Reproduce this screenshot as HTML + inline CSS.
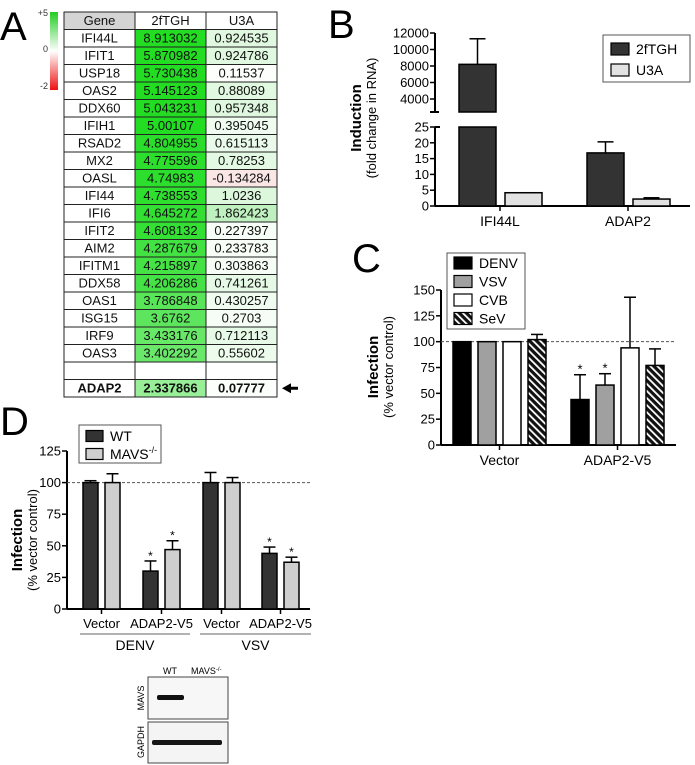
<!DOCTYPE html>
<html><head><meta charset="utf-8">
<style>
body{margin:0;background:#fff;}
svg{display:block;font-family:"Liberation Sans",Arial,sans-serif;}
</style></head>
<body>
<svg id="fig" width="695" height="765" viewBox="0 0 695 765" xmlns="http://www.w3.org/2000/svg">
<defs>
<linearGradient id="scaleGrad" x1="0" y1="0" x2="0" y2="1">
<stop offset="0" stop-color="#22cc22"/><stop offset="0.5" stop-color="#ffffff"/><stop offset="1" stop-color="#ee1111"/>
</linearGradient>
<pattern id="hatch" patternUnits="userSpaceOnUse" width="5" height="5" patternTransform="rotate(-45)">
<rect width="5" height="5" fill="#111"/><rect x="0" y="0" width="1.8" height="5" fill="#fff"/>
</pattern>
</defs>
<g id="panelA"></g>
<g id="panelB"></g>
<g id="panelC"></g>
<g id="panelD"></g>
<g id="blot"></g>
</svg>
<script>
// ---------- Panel A data ----------
const genes = ["IFI44L","IFIT1","USP18","OAS2","DDX60","IFIH1","RSAD2","MX2","OASL","IFI44","IFI6","IFIT2","AIM2","IFITM1","DDX58","OAS1","ISG15","IRF9","OAS3"];
const val2f = ["8.913032","5.870982","5.730438","5.145123","5.043231","5.00107","4.804955","4.775596","4.74983","4.738553","4.645272","4.608132","4.287679","4.215897","4.206286","3.786848","3.6762","3.433176","3.402292"];
const valU3 = ["0.924535","0.924786","0.11537","0.88089","0.957348","0.395045","0.615113","0.78253","-0.134284","1.0236","1.862423","0.227397","0.233783","0.303863","0.741261","0.430257","0.2703","0.712113","0.55602"];
const hiGene = "ADAP2", hi2f = "2.337866", hiU3 = "0.07777";

// ---------- Panel B data ----------
const bCats = ["IFI44L","ADAP2"];
const b2fTGH = [8200, 16.8];
const b2fTGHerr = [11300, 20.3];
const bU3A = [4.2, 2.2];
const bU3Aerr = [4.2, 2.6];
const bUpperTicks = [4000,6000,8000,10000,12000];
const bLowerTicks = [0,5,10,15,20,25];

// ---------- Panel C data ----------
const cCats = ["Vector","ADAP2-V5"];
const cSeries = ["DENV","VSV","CVB","SeV"];
const cVals = [[100,100,100,102],[44,58,94,77]];
const cErr = [[100,100,100,107],[68,69,143,93]];
const cStar = [[false,false,false,false],[true,true,false,false]];
const cTicks = [0,25,50,75,100,125,150];

// ---------- Panel D data ----------
const dCats = ["Vector","ADAP2-V5","Vector","ADAP2-V5"];
const dGroups = ["DENV","VSV"];
const dWT = [100,30,100,44];
const dWTerr = [101.5,38,108,49];
const dMAVS = [100,47,100,37];
const dMAVSerr = [107,54,104,41];
const dStar = [false,true,false,true];
const dTicks = [0,25,50,75,100,125];

const NS="http://www.w3.org/2000/svg";
function mk(parent,tag,attrs,text){const e=document.createElementNS(NS,tag);for(const k in attrs)e.setAttribute(k,attrs[k]);if(text!==undefined)e.textContent=text;parent.appendChild(e);return e;}

// ===== Panel A =====
const A=document.getElementById('panelA');
let t=mk(A,'text',{x:0,y:40,'font-size':40},'A');


let sb=mk(A,'rect',{x:50,y:12,width:8,height:78,fill:'url(#scaleGrad)'});


[['+5',16],['0',52],['-2',89]].forEach(p=>{const e=mk(A,'text',{x:48,y:p[1],'font-size':9,'text-anchor':'end',fill:'#333'},p[0]);

});
const tx=[64,135,206,277], ty0=12, rh=17.5;
function greenFor(v){const f=Math.max(0,Math.min(1,v/5));const r=Math.round(255-(255-34)*f),g=Math.round(255-(255-221)*f),b=Math.round(255-(255-34)*f);return `rgb(${r},${g},${b})`;}
function u3Col(v){if(v<0){return '#fbe6e6';}const f=Math.min(1,v/1.9);const r=Math.round(255-(255-190)*f),g=Math.round(255-(255-240)*f),b=Math.round(255-(255-190)*f);return `rgb(${r},${g},${b})`;}
function row(i,cells,fills,bold,name){
  const y=ty0+i*rh;
  for(let c=0;c<3;c++){
    const r=mk(A,'rect',{x:tx[c],y:y,width:tx[c+1]-tx[c],height:rh,fill:fills[c],stroke:'#222','stroke-width':1});
    
    
    if(cells[c]!==''){const e=mk(A,'text',{x:(tx[c]+tx[c+1])/2,y:y+13,'font-size':13,'text-anchor':'middle','font-weight':bold?'bold':'normal',fill:'#111'},cells[c]);
    
    }
  }
}
row(0,['Gene','2fTGH','U3A'],['#d4d4d4','#fff','#fff'],false,'table-header');
genes.forEach((g,i)=>row(i+1,[g,val2f[i],valU3[i]],['#fff',greenFor(+val2f[i]),u3Col(+valU3[i])],false,'gene-row'));
row(genes.length+1,['','',''],['#fff','#fff','#fff'],false,'blank-row');
row(genes.length+2,[hiGene,hi2f,hiU3],['#fff',greenFor(+hi2f),u3Col(+hiU3)],true,'adap2-row');
const ay=ty0+(genes.length+2)*rh+rh/2;
let ar=mk(A,'path',{d:`M282 ${ay} L291 ${ay-5} L291 ${ay-1.5} L298 ${ay-1.5} L298 ${ay+1.5} L291 ${ay+1.5} L291 ${ay+5} Z`,fill:'#000'});



// ===== Panel B =====
const B=document.getElementById('panelB');
t=mk(B,'text',{x:328,y:38,'font-size':40},'B');


const bAx=435;
function yUp(v){return 99-(v-4000)*66/8000;}
function yLo(v){return 206-v*79/25;}
const UPB=112, LOT=127;
mk(B,'line',{x1:bAx,y1:yUp(12000),x2:bAx,y2:UPB,stroke:'#000','stroke-width':2});
mk(B,'line',{x1:bAx-5,y1:UPB,x2:bAx+4,y2:UPB,stroke:'#000','stroke-width':2});
mk(B,'line',{x1:bAx,y1:LOT,x2:bAx,y2:206,stroke:'#000','stroke-width':2});
mk(B,'line',{x1:bAx,y1:LOT,x2:bAx+5,y2:LOT,stroke:'#000','stroke-width':2});
mk(B,'line',{x1:bAx,y1:206,x2:690,y2:206,stroke:'#000','stroke-width':2});
bUpperTicks.forEach(v=>{mk(B,'line',{x1:bAx-5,y1:yUp(v),x2:bAx,y2:yUp(v),stroke:'#000','stroke-width':1.5});
 const e=mk(B,'text',{x:bAx-6,y:yUp(v)+4.5,'font-size':13,'text-anchor':'end'},v);
 
 });
bLowerTicks.forEach(v=>{mk(B,'line',{x1:bAx-5,y1:yLo(v),x2:bAx,y2:yLo(v),stroke:'#000','stroke-width':1.5});
 const e=mk(B,'text',{x:bAx-6,y:yLo(v)+4.5,'font-size':13,'text-anchor':'end'},v);
 
 });
const bCenters=[500,628], bw=37;
function yB(v){return v>25?yUp(v):yLo(v);}
function bBar(cx,v,ev,fill,name){
  if(v>25){
    const r1=mk(B,'rect',{x:cx,y:yUp(v),width:bw,height:UPB-yUp(v),fill:fill,stroke:'#000','stroke-width':1.5});
    
    
    const r2=mk(B,'rect',{x:cx,y:LOT,width:bw,height:206-LOT,fill:fill,stroke:'#000','stroke-width':1.5});
    
    
  } else {
    const r=mk(B,'rect',{x:cx,y:yLo(v),width:bw,height:206-yLo(v),fill:fill,stroke:'#000','stroke-width':1.5});
    
    
  }
  if(ev>v){mk(B,'line',{x1:cx+bw/2,y1:yB(v),x2:cx+bw/2,y2:yB(ev),stroke:'#000','stroke-width':1.5});
  mk(B,'line',{x1:cx+bw/2-8,y1:yB(ev),x2:cx+bw/2+8,y2:yB(ev),stroke:'#000','stroke-width':1.5});}
}
bCats.forEach((c,i)=>{
  bBar(bCenters[i]-41,b2fTGH[i],b2fTGHerr[i],'#333','b-bar-2ftgh');
  bBar(bCenters[i]+5,bU3A[i],bU3Aerr[i],'#e2e2e2','b-bar-u3a');
  mk(B,'line',{x1:bCenters[i],y1:206,x2:bCenters[i],y2:211,stroke:'#000','stroke-width':1.5});
  const e=mk(B,'text',{x:bCenters[i],y:226,'font-size':14,'text-anchor':'middle'},c);
  
  
});
let lg=mk(B,'rect',{x:603,y:35,width:87,height:47,fill:'#fff',stroke:'#555','stroke-width':1});


[['2fTGH','#333',49],['U3A','#e2e2e2',70]].forEach(p=>{
  mk(B,'rect',{x:611,y:p[2]-6,width:18,height:12,fill:p[1],stroke:'#000','stroke-width':1.2});
  const e=mk(B,'text',{x:636,y:p[2]+5,'font-size':14},p[0]);
  
  
});
t=mk(B,'text',{transform:'translate(361,118) rotate(-90)','font-size':15,'font-weight':'bold','text-anchor':'middle'},'Induction');


t=mk(B,'text',{transform:'translate(376,118) rotate(-90)','font-size':13,'text-anchor':'middle'},'(fold change in RNA)');



// ===== Panel C =====
const C=document.getElementById('panelC');
t=mk(C,'text',{x:352,y:272,'font-size':40},'C');


const cAx=441;
function yC(v){return 445-v*155/150;}
mk(C,'line',{x1:cAx,y1:yC(150),x2:cAx,y2:445,stroke:'#000','stroke-width':2});
mk(C,'line',{x1:cAx,y1:445,x2:676,y2:445,stroke:'#000','stroke-width':2});
cTicks.forEach(v=>{mk(C,'line',{x1:cAx-5,y1:yC(v),x2:cAx,y2:yC(v),stroke:'#000','stroke-width':1.5});
 const e=mk(C,'text',{x:cAx-6,y:yC(v)+4.5,'font-size':13,'text-anchor':'end'},v);
 
 });
mk(C,'line',{x1:cAx,y1:yC(100),x2:676,y2:yC(100),stroke:'#555','stroke-width':1,'stroke-dasharray':'3,2'});
const cFills=['#000','#a0a0a0','#fff','url(#hatch)'];
const cGroupStart=[453,571], cStep=25, cw=18;
cCats.forEach((c,g)=>{
  cSeries.forEach((s,k)=>{
    const x=cGroupStart[g]+k*cStep, v=cVals[g][k], ev=cErr[g][k];
    if(ev>v){mk(C,'line',{x1:x+cw/2,y1:yC(v),x2:x+cw/2,y2:yC(ev),stroke:'#000','stroke-width':1.5});
    mk(C,'line',{x1:x+cw/2-6,y1:yC(ev),x2:x+cw/2+6,y2:yC(ev),stroke:'#000','stroke-width':1.5});}
    const r=mk(C,'rect',{x:x,y:yC(v),width:cw,height:445-yC(v),fill:cFills[k],stroke:'#000','stroke-width':1.5});
    
    
    if(cStar[g][k]){const e=mk(C,'text',{x:x+cw/2,y:yC(ev)-1,'font-size':13,'text-anchor':'middle'},'*');
    
    }
  });
  const cx=cGroupStart[g]+(3*cStep+cw)/2;
  mk(C,'line',{x1:cx,y1:445,x2:cx,y2:450,stroke:'#000','stroke-width':1.5});
  const e=mk(C,'text',{x:cx,y:465,'font-size':14,'text-anchor':'middle'},c);
  
  
});
lg=mk(C,'rect',{x:447,y:253,width:78,height:76,fill:'#fff',stroke:'#555','stroke-width':1});


cSeries.forEach((s,k)=>{const y=263+k*18.5;
  mk(C,'rect',{x:454,y:y-6,width:18,height:12,fill:cFills[k],stroke:'#000','stroke-width':1.2});
  const e=mk(C,'text',{x:479,y:y+5,'font-size':14},s);
  
  });
t=mk(C,'text',{transform:'translate(378,367) rotate(-90)','font-size':15,'font-weight':'bold','text-anchor':'middle'},'Infection');


t=mk(C,'text',{transform:'translate(393,367) rotate(-90)','font-size':13,'text-anchor':'middle'},'(% vector control)');



// ===== Panel D =====
const D=document.getElementById('panelD');
t=mk(D,'text',{x:0,y:435,'font-size':40},'D');


const dAx=67;
function yD(v){return 609-v*158/125;}
mk(D,'line',{x1:dAx,y1:yD(125),x2:dAx,y2:609,stroke:'#000','stroke-width':2});
mk(D,'line',{x1:dAx,y1:609,x2:310,y2:609,stroke:'#000','stroke-width':2});
dTicks.forEach(v=>{mk(D,'line',{x1:dAx-5,y1:yD(v),x2:dAx,y2:yD(v),stroke:'#000','stroke-width':1.5});
 const e=mk(D,'text',{x:dAx-6,y:yD(v)+4.5,'font-size':13,'text-anchor':'end'},v);
 
 });
mk(D,'line',{x1:dAx,y1:yD(100),x2:310,y2:yD(100),stroke:'#555','stroke-width':1,'stroke-dasharray':'3,2'});
const dStart=[83,143,203,262], dw=15;
function dBar(x,v,ev,fill,star,name){
  mk(D,'line',{x1:x+dw/2,y1:yD(v),x2:x+dw/2,y2:yD(ev),stroke:'#000','stroke-width':1.5});
  mk(D,'line',{x1:x+dw/2-6,y1:yD(ev),x2:x+dw/2+6,y2:yD(ev),stroke:'#000','stroke-width':1.5});
  const r=mk(D,'rect',{x:x,y:yD(v),width:dw,height:609-yD(v),fill:fill,stroke:'#000','stroke-width':1.5});
  
  
  if(star){const e=mk(D,'text',{x:x+dw/2,y:yD(ev)-1,'font-size':12,'text-anchor':'middle'},'*');
  
  }
}
dCats.forEach((c,i)=>{
  dBar(dStart[i],dWT[i],dWTerr[i],'#333',dStar[i],'d-bar-wt');
  dBar(dStart[i]+22,dMAVS[i],dMAVSerr[i],'#cfcfcf',dStar[i],'d-bar-mavs');
  const cx=dStart[i]+(22+dw)/2;
  mk(D,'line',{x1:cx,y1:609,x2:cx,y2:614,stroke:'#000','stroke-width':1.5});
  const e=mk(D,'text',{x:cx,y:628,'font-size':13,'text-anchor':'middle'},c);
  
  
});
[[80,190],[200,311]].forEach((p,g)=>{
  mk(D,'line',{x1:p[0],y1:634,x2:p[1],y2:634,stroke:'#666','stroke-width':1});
  const e=mk(D,'text',{x:(p[0]+p[1])/2,y:650,'font-size':14,'text-anchor':'middle'},dGroups[g]);
  
  
});
lg=mk(D,'rect',{x:79,y:425,width:82,height:38,fill:'#fff',stroke:'#555','stroke-width':1});


[['WT','#333',436],['MAVS','#cfcfcf',454]].forEach((p,k)=>{
  mk(D,'rect',{x:86,y:p[2]-5.5,width:17,height:11,fill:p[1],stroke:'#000','stroke-width':1.2});
  const e=mk(D,'text',{x:110,y:p[2]+5,'font-size':14},p[0]);
  
  
  if(k===1){mk(e,'tspan',{'font-size':9,dy:-6},'-/-');}
});
t=mk(D,'text',{transform:'translate(22,540) rotate(-90)','font-size':15,'font-weight':'bold','text-anchor':'middle'},'Infection');


t=mk(D,'text',{transform:'translate(37,540) rotate(-90)','font-size':13,'text-anchor':'middle'},'(% vector control)');



// ===== Blot =====
const W=document.getElementById('blot');
let bl=mk(W,'rect',{x:148,y:677,width:80,height:42,fill:'#f7f7f7',stroke:'#444','stroke-width':1});


bl=mk(W,'rect',{x:148,y:722,width:80,height:41,fill:'#f4f4f4',stroke:'#444','stroke-width':1});


let band=mk(W,'rect',{x:157,y:695,width:27,height:5,rx:2,fill:'#111'});


band=mk(W,'rect',{x:152,y:740,width:70,height:5,rx:2,fill:'#151515'});


t=mk(W,'text',{x:170,y:674,'font-size':9,'text-anchor':'middle'},'WT');


t=mk(W,'text',{x:191,y:674,'font-size':9},'MAVS');


mk(t,'tspan',{'font-size':6,dy:-3},'-/-');
t=mk(W,'text',{transform:'translate(144,698) rotate(-90)','font-size':9,'text-anchor':'middle'},'MAVS');


t=mk(W,'text',{transform:'translate(144,742) rotate(-90)','font-size':9,'text-anchor':'middle'},'GAPDH');


</script>
</body></html>
